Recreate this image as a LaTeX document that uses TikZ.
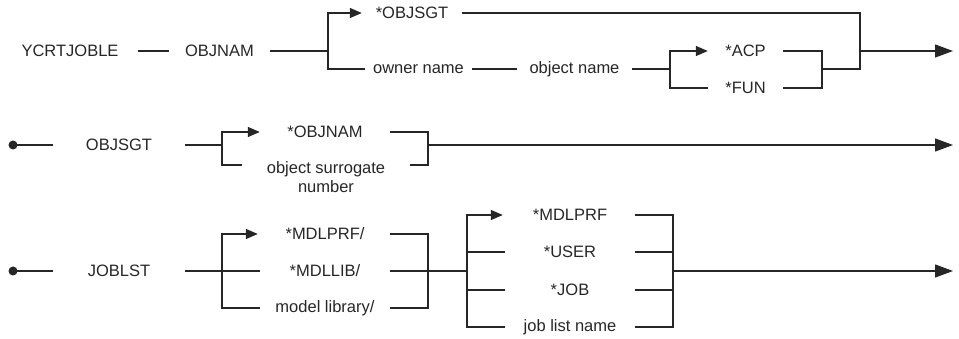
\documentclass[tikz,border=0pt]{standalone}
\usepackage{fontspec}
\setmainfont{Liberation Sans}
\usetikzlibrary{arrows.meta}
\tikzset{
  lbl/.style={inner sep=0pt, minimum height=14pt, align=center,
    font=\fontsize{16.5pt}{19pt}\selectfont, text=black!85},
  ln/.style={line width=1.3pt, black!85},
  bigarr/.style={ln, -{Triangle[length=18pt,width=13pt]}},
  smallarr/.style={ln, -{Triangle[length=12pt,width=10pt]}},
  startdot/.style={circle, fill=black!85, inner sep=0pt, minimum size=9pt}
}
\begin{document}
\begin{tikzpicture}[x=1pt,y=-1pt]
\useasboundingbox (0,0) rectangle (959,339);
% ---------- Row 1 ----------
\node[lbl, minimum width=136pt] (ycrt) at (70,51) {YCRTJOBLE};
\node[lbl, minimum width=101pt] (objnam) at (219.5,51) {OBJNAM};
\node[lbl, minimum width=100pt] (objsgt1) at (412,13) {*OBJSGT};
\node[lbl, minimum width=107pt] (owner) at (418.5,69) {owner name};
\node[lbl, minimum width=115pt] (objname) at (574.5,69) {object name};
\node[lbl, minimum width=75pt] (acp) at (745.5,51) {*ACP};
\node[lbl, minimum width=75pt] (fun) at (745.5,88) {*FUN};
\coordinate (j1) at (328,51);
\coordinate (j2) at (670,69);
\coordinate (k2) at (822,69);
\coordinate (k1) at (860,51);
\coordinate (e1) at (953,51);
\draw[ln] (ycrt.east) -- (objnam.west);
\draw[ln] (objnam.east) -- (j1);
\draw[smallarr] (j1) |- (objsgt1.west);
\draw[ln] (j1) |- (owner.west);
\draw[ln] (owner.east) -- (objname.west);
\draw[ln] (objname.east) -- (j2);
\draw[smallarr] (j2) |- (acp.west);
\draw[ln] (j2) |- (fun.west);
\draw[ln] (acp.east) -| (k2) |- (fun.east);
\draw[ln] (k2) -| (k1);
\draw[ln] (objsgt1.east) -| (k1);
\draw[bigarr] (k1) -- (e1);
% ---------- Row 2 ----------
\node[startdot] (d2) at (13,145) {};
\node[lbl, minimum width=132pt] (objsgt2) at (119,145) {OBJSGT};
\node[lbl, minimum width=130pt] (objnam2) at (325,132) {*OBJNAM};
\node[lbl, minimum width=168pt] (osn) at (326,177) {object surrogate\\number};
\coordinate (j3) at (222,145);
\coordinate (k3) at (428,145);
\coordinate (e2) at (953,145);
\draw[ln] (d2.center) -- (objsgt2.west);
\draw[ln] (objsgt2.east) -- (j3);
\draw[smallarr] (j3) |- (objnam2.west);
\draw[ln] (j3) |- ([yshift=12pt]osn.west);
\draw[ln] (objnam2.east) -| (k3) |- ([yshift=12pt]osn.east);
\draw[bigarr] (k3) -- (e2);
% ---------- Row 3 ----------
\node[startdot] (d3) at (13,271) {};
\node[lbl, minimum width=132pt] (joblst) at (119,271) {JOBLST};
\node[lbl, minimum width=130pt] (mprf1) at (325,234) {*MDLPRF/};
\node[lbl, minimum width=130pt] (mlib) at (325,271) {*MDLLIB/};
\node[lbl, minimum width=130pt] (mlibn) at (325,308) {model library/};
\node[lbl, minimum width=130pt] (mprf2) at (570,215) {*MDLPRF};
\node[lbl, minimum width=130pt] (user) at (570,252) {*USER};
\node[lbl, minimum width=130pt] (job) at (570,290) {*JOB};
\node[lbl, minimum width=130pt] (jln) at (570,327) {job list name};
\coordinate (j4) at (222,271);
\coordinate (k4) at (428,271);
\coordinate (j5) at (467,271);
\coordinate (k5) at (673,271);
\coordinate (e3) at (953,271);
\draw[ln] (d3.center) -- (joblst.west);
\draw[ln] (joblst.east) -- (mlib.west);
\draw[smallarr] (j4) |- ([xshift=-2pt]mprf1.west);
\draw[ln] (j4) |- (mlibn.west);
\draw[ln] (mprf1.east) -| (k4) |- (mlibn.east);
\draw[ln] (mlib.east) -- (j5);
\draw[smallarr] (j5) |- ([xshift=-2pt]mprf2.west);
\draw[ln] (j5) |- (jln.west);
\draw[ln] (j5 |- user.west) -- (user.west);
\draw[ln] (j5 |- job.west) -- (job.west);
\draw[ln] (mprf2.east) -| (k5) |- (jln.east);
\draw[ln] (user.east) -- (k5 |- user.east);
\draw[ln] (job.east) -- (k5 |- job.east);
\draw[bigarr] (k5) -- (e3);
\end{tikzpicture}
\end{document}
